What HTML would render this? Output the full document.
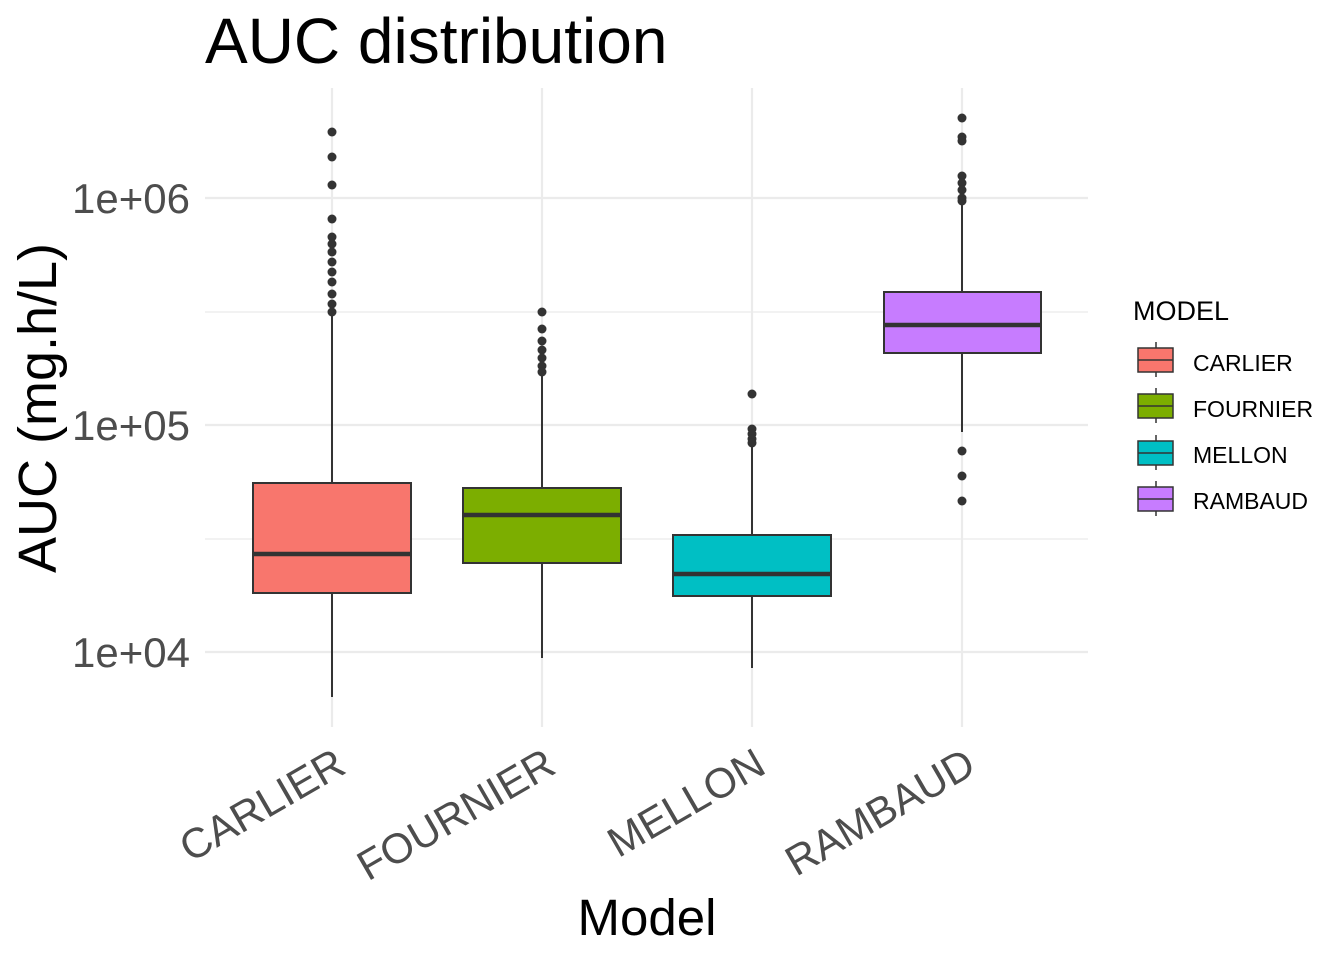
<!DOCTYPE html>
<html><head><meta charset="utf-8"><style>
body{margin:0;background:#fff;}
svg{display:block;font-family:"Liberation Sans",sans-serif;}
</style></head><body>
<svg width="1344" height="960" viewBox="0 0 1344 960">
<rect width="1344" height="960" fill="#fff"/>
<g stroke="#ebebeb" stroke-width="1.2">
<line x1="205" x2="1088" y1="312" y2="312"/>
<line x1="205" x2="1088" y1="539" y2="539"/>
</g>
<g stroke="#ebebeb" stroke-width="2.2">
<line x1="205" x2="1088" y1="198" y2="198"/>
<line x1="205" x2="1088" y1="425" y2="425"/>
<line x1="205" x2="1088" y1="652" y2="652"/>
<line x1="332" x2="332" y1="88" y2="727"/>
<line x1="542" x2="542" y1="88" y2="727"/>
<line x1="752" x2="752" y1="88" y2="727"/>
<line x1="962" x2="962" y1="88" y2="727"/>
</g>
<g stroke="#333" stroke-width="2">
<line x1="332" x2="332" y1="312" y2="483"/><line x1="332" x2="332" y1="593" y2="697"/>
<line x1="542" x2="542" y1="375" y2="488"/><line x1="542" x2="542" y1="563" y2="658"/>
<line x1="752" x2="752" y1="445" y2="535"/><line x1="752" x2="752" y1="596" y2="668"/>
<line x1="962" x2="962" y1="203" y2="292"/><line x1="962" x2="962" y1="353" y2="432"/>
</g>
<g stroke="#333" stroke-width="2">
<rect x="253" y="483" width="158" height="110" fill="#F8766D"/>
<rect x="463" y="488" width="158" height="75" fill="#7CAE00"/>
<rect x="673" y="535" width="158" height="61" fill="#00BFC4"/>
<rect x="884" y="292" width="157" height="61" fill="#C77CFF"/>
</g>
<g stroke="#333" stroke-width="4.5">
<line x1="253" x2="411" y1="554" y2="554"/>
<line x1="463" x2="621" y1="515" y2="515"/>
<line x1="673" x2="831" y1="574" y2="574"/>
<line x1="884" x2="1041" y1="325" y2="325"/>
</g>
<g fill="#333">
<circle cx="332" cy="132" r="4.5"/><circle cx="332" cy="157" r="4.5"/><circle cx="332" cy="185" r="4.5"/><circle cx="332" cy="219" r="4.5"/>
<circle cx="332" cy="237" r="4.5"/><circle cx="332" cy="244" r="4.5"/><circle cx="332" cy="252" r="4.5"/><circle cx="332" cy="262" r="4.5"/><circle cx="332" cy="272" r="4.5"/><circle cx="332" cy="282" r="4.5"/><circle cx="332" cy="294" r="4.5"/><circle cx="332" cy="304" r="4.5"/><circle cx="332" cy="312" r="4.5"/>
<circle cx="542" cy="312" r="4.5"/><circle cx="542" cy="329" r="4.5"/><circle cx="542" cy="341" r="4.5"/><circle cx="542" cy="350" r="4.5"/><circle cx="542" cy="358" r="4.5"/><circle cx="542" cy="366" r="4.5"/><circle cx="542" cy="372" r="4.5"/>
<circle cx="752" cy="394" r="4.5"/><circle cx="752" cy="429" r="4.5"/><circle cx="752" cy="434" r="4.5"/><circle cx="752" cy="439" r="4.5"/><circle cx="752" cy="443" r="4.5"/>
<circle cx="962" cy="118" r="4.5"/><circle cx="962" cy="137" r="4.5"/><circle cx="962" cy="141" r="4.5"/><circle cx="962" cy="176" r="4.5"/><circle cx="962" cy="183" r="4.5"/><circle cx="962" cy="190" r="4.5"/><circle cx="962" cy="198" r="4.5"/><circle cx="962" cy="201" r="4.5"/>
<circle cx="962" cy="451" r="4.5"/><circle cx="962" cy="476" r="4.5"/><circle cx="962" cy="501" r="4.5"/>
</g>
<g fill="#4d4d4d" font-size="42" text-anchor="end">
<text x="190" y="213">1e+06</text><text x="190" y="440">1e+05</text><text x="190" y="667">1e+04</text>
</g>
<g fill="#4d4d4d" font-size="42" text-anchor="end">
<text transform="translate(348,772) rotate(-30)">CARLIER</text>
<text transform="translate(558,772) rotate(-30)">FOURNIER</text>
<text transform="translate(768,772) rotate(-30)">MELLON</text>
<text transform="translate(978,772) rotate(-30)">RAMBAUD</text>
</g>
<text x="205" y="63" font-size="64" fill="#000">AUC distribution</text>
<text x="647" y="935" font-size="51" fill="#000" text-anchor="middle">Model</text>
<text transform="translate(56,408) rotate(-90)" font-size="54" fill="#000" text-anchor="middle">AUC (mg.h/L)</text>
<text x="1133" y="320" font-size="27" fill="#000">MODEL</text>
<g stroke="#333" stroke-width="1.5">
<line x1="1156" x2="1156" y1="342" y2="377"/><line x1="1156" x2="1156" y1="388" y2="423"/><line x1="1156" x2="1156" y1="435" y2="470"/><line x1="1156" x2="1156" y1="481" y2="516"/>
<rect x="1138" y="348" width="35" height="24" fill="#F8766D"/>
<rect x="1138" y="394" width="35" height="24" fill="#7CAE00"/>
<rect x="1138" y="441" width="35" height="24" fill="#00BFC4"/>
<rect x="1138" y="487" width="35" height="24" fill="#C77CFF"/>
<line x1="1138" x2="1173" y1="360" y2="360"/><line x1="1138" x2="1173" y1="406" y2="406"/><line x1="1138" x2="1173" y1="453" y2="453"/><line x1="1138" x2="1173" y1="499" y2="499"/>
</g>
<g font-size="23" fill="#000">
<text x="1193" y="371">CARLIER</text><text x="1193" y="417">FOURNIER</text><text x="1193" y="463">MELLON</text><text x="1193" y="509">RAMBAUD</text>
</g>
</svg>
</body></html>
